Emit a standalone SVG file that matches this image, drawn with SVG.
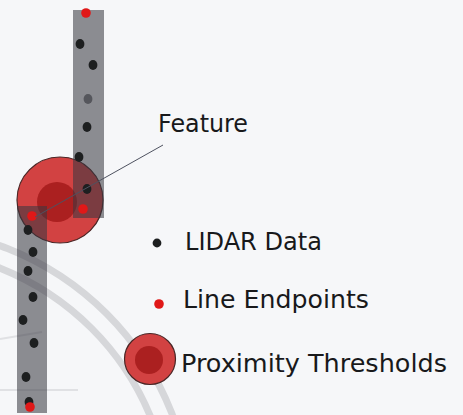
<svg xmlns="http://www.w3.org/2000/svg" width="463" height="415" viewBox="0 0 463 415">
  <style>
    .lbl { font-family: "DejaVu Sans", "Liberation Sans", sans-serif; font-size: 25px; fill: #18191b; }
    .bar { fill: #383840; fill-opacity: 0.56; }
    .pt { fill: #1d1f20; }
    .end { fill: #e01818; }
    .zone { fill: #d24242; stroke: #4a2626; stroke-width: 1.2; }
    .core { fill: #a51a1a; fill-opacity: 0.85; }
    .wm { fill: none; stroke: #d6d7da; stroke-width: 7; }
    .wm-thin { fill: none; stroke: #e0e1e4; stroke-width: 2; }
    .lead { stroke: #4e5260; stroke-width: 1; fill: none; }
  </style>

  <!-- page -->
  <rect width="463" height="415" fill="#f6f7f9"/>

  <!-- faint background seal -->
  <g id="seal">
    <circle class="wm" cx="-100" cy="520" r="292"/>
    <circle class="wm" cx="-100" cy="520" r="271"/>
    <path class="wm-thin" d="M0 339 L42 332"/>
    <path class="wm-thin" d="M0 390 L78 390"/>
  </g>

  <!-- proximity threshold around the feature -->
  <g id="feature-zone">
    <circle class="zone" cx="60" cy="200" r="43"/>
    <circle class="core" cx="57" cy="202" r="20"/>
  </g>

  <!-- upper scan line -->
  <g id="line-upper">
    <rect class="bar" x="73" y="10" width="31" height="208"/>
    <ellipse class="pt" cx="80" cy="44" rx="4.4" ry="4.9"/>
    <ellipse class="pt" cx="93" cy="65" rx="4.4" ry="4.9"/>
    <ellipse cx="88" cy="99" rx="4.4" ry="4.9" fill="#55565c"/>
    <ellipse class="pt" cx="87" cy="127" rx="4.4" ry="4.9"/>
    <ellipse class="pt" cx="79" cy="157" rx="4.4" ry="4.9"/>
    <ellipse class="pt" cx="87" cy="189" rx="4.4" ry="4.9"/>
    <circle class="end" cx="86" cy="13" r="4.8"/>
    <circle class="end" cx="83" cy="209" r="4.8"/>
  </g>

  <!-- lower scan line -->
  <g id="line-lower">
    <rect class="bar" x="17" y="206" width="30" height="207"/>
    <ellipse class="pt" cx="28" cy="230" rx="4.4" ry="4.9"/>
    <ellipse class="pt" cx="33" cy="252" rx="4.4" ry="4.9"/>
    <ellipse class="pt" cx="28" cy="271" rx="4.4" ry="4.9"/>
    <ellipse class="pt" cx="33" cy="297" rx="4.4" ry="4.9"/>
    <ellipse class="pt" cx="23" cy="320" rx="4.4" ry="4.9"/>
    <ellipse class="pt" cx="34" cy="343" rx="4.4" ry="4.9"/>
    <ellipse class="pt" cx="26" cy="377" rx="4.4" ry="4.9"/>
    <ellipse class="pt" cx="29" cy="402" rx="4.4" ry="4.9"/>
    <circle class="end" cx="32" cy="216" r="4.8"/>
    <circle class="end" cx="30" cy="407" r="4.8"/>
  </g>

  <!-- leader from feature to its label -->
  <g id="connectors">
    <path class="lead" d="M35 217 L163 145"/>
  </g>

  <g id="feature-label">
    <text class="lbl" x="158" y="132" textLength="90" lengthAdjust="spacingAndGlyphs">Feature</text>
  </g>

  <!-- legend -->
  <g id="legend-lidar">
    <circle class="pt" cx="157" cy="243" r="4.4"/>
    <text class="lbl" x="185" y="250" textLength="137" lengthAdjust="spacingAndGlyphs">LIDAR Data</text>
  </g>
  <g id="legend-endpoints">
    <circle class="end" cx="159" cy="304" r="4.8"/>
    <text class="lbl" x="183" y="308" textLength="186" lengthAdjust="spacingAndGlyphs">Line Endpoints</text>
  </g>
  <g id="legend-threshold">
    <circle class="zone" cx="150" cy="359" r="25.5"/>
    <circle class="core" cx="149" cy="360" r="14"/>
    <text class="lbl" x="181" y="372" textLength="266" lengthAdjust="spacingAndGlyphs">Proximity Thresholds</text>
  </g>
</svg>
